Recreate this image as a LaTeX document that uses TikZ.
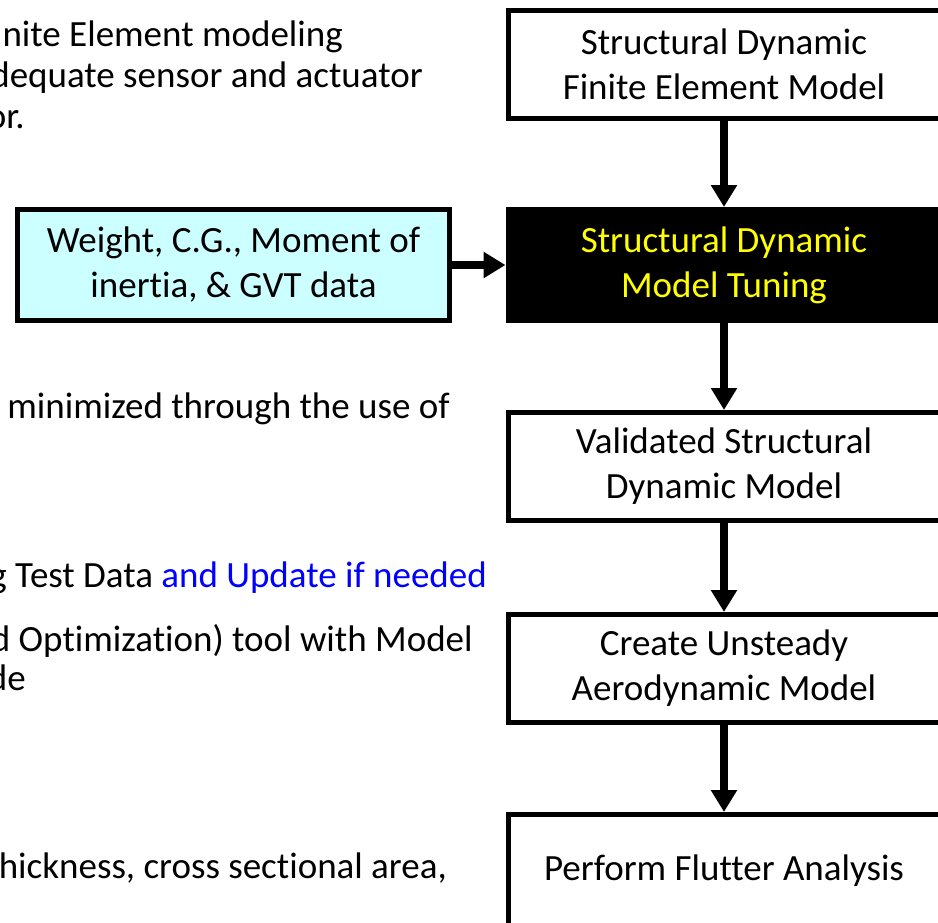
\documentclass[tikz,border=0pt]{standalone}
\usepackage{fontspec}
\setmainfont{Carlito}[Ligatures={NoCommon}]
\usetikzlibrary{arrows.meta}
\definecolor{datafill}{HTML}{CCFFFF}
\definecolor{tuneyellow}{HTML}{FFFF00}
\definecolor{notesblue}{HTML}{0000FF}
\newcommand\slidefont{\fontsize{37pt}{45pt}\selectfont}
\begin{document}
\begin{tikzpicture}[x=1pt,y=-1pt,
  flowbox/.style={draw=black, line width=5pt, fill=white, minimum width=432pt,
    minimum height=108pt, align=center, inner sep=0pt, font=\slidefont},
  flowarrow/.style={line width=7.5pt, -{Triangle[length=22pt,width=25pt]}},
  notetext/.style={anchor=base east, inner sep=0pt, font=\slidefont}]
\useasboundingbox (0,0) rectangle (938,922);
\clip (0,0) rectangle (938,922);

% process column
\node[flowbox] (fem) at (724,64) {Structural Dynamic\\Finite Element Model};
\node[flowbox, fill=black, text=tuneyellow, minimum height=111pt] (tune) at (724,265)
  {Structural Dynamic\\Model Tuning};
\node[flowbox] (valid) at (724,466.5) {Validated Structural\\Dynamic Model};
\node[flowbox] (aero) at (724,668.5) {Create Unsteady\\Aerodynamic Model};
\node[flowbox, minimum height=112pt] (flutter) at (724,870.5) {Perform Flutter Analysis};

% test data input
\node[flowbox, fill=datafill, minimum height=111pt] (data) at (233.5,265)
  {Weight, C.G., Moment of\\inertia, \& GVT data};

\draw[flowarrow] (fem) -- (tune);
\draw[flowarrow] (data) -- (tune);
\draw[flowarrow] (tune) -- (valid);
\draw[flowarrow] (valid) -- (aero);
\draw[flowarrow] (aero) -- (flutter);

% notes text along the left side
\node[notetext] (n1) at (343,46) {nite Element modeling};
\node[notetext] (n2) at (423,87) {dequate sensor and actuator};
\node[notetext] (n3) at (25,128) {or.};
\node[notetext] (n4) at (450,418) {minimized through the use of};
\node[notetext] (n5) at (487,587) {g Test Data \textcolor{notesblue}{and Update if needed}};
\node[notetext] (n6) at (473,651) {d Optimization) tool with Model};
\node[notetext] (n7) at (26,690) {de};
\node[notetext] (n8) at (447,878) {hickness, cross sectional area,};
\end{tikzpicture}
\end{document}
